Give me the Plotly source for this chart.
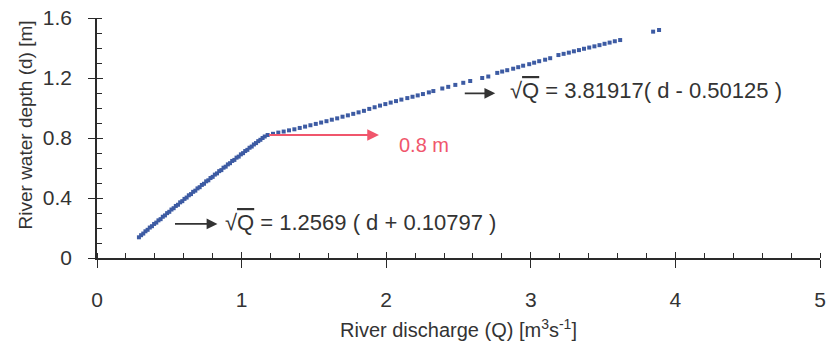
import plotly.graph_objects as go

# ---- data ----
lower_q = [0.290,0.305,0.320,0.335,0.350,0.365,0.380,0.395,0.410,0.425,
           0.440,0.455,0.470,0.485,0.500,0.515,0.530,0.545,0.560,0.575,
           0.590,0.605,0.620,0.635,0.650,0.665,0.680,0.695,0.710,0.725,
           0.740,0.755,0.770,0.785,0.800,0.815,0.830,0.845,0.860,0.875,
           0.890,0.905,0.920,0.935,0.950,0.965,0.980,0.995,1.010,1.025,
           1.040,1.055,1.070,1.085,1.100,1.115,1.130,1.145,1.160]
lower_d = [0.138,0.152,0.163,0.178,0.188,0.203,0.212,0.227,0.236,0.251,
           0.259,0.275,0.284,0.299,0.308,0.323,0.332,0.347,0.355,0.371,
           0.379,0.394,0.403,0.418,0.426,0.441,0.449,0.464,0.472,0.487,
           0.495,0.511,0.518,0.533,0.541,0.556,0.564,0.579,0.586,0.602,
           0.609,0.624,0.632,0.647,0.654,0.669,0.676,0.691,0.699,0.713,
           0.721,0.735,0.743,0.757,0.766,0.779,0.788,0.800,0.810]

upper_q = [1.180,1.217,1.254,1.291,1.328,1.365,1.402,1.439,1.476,1.513,
           1.550,1.587,1.624,1.661,1.698,1.735,1.772,1.809,1.846,1.883,
           1.920,1.957,1.994,2.031,2.068,2.105,
           2.146,2.182,2.218,2.254,2.295,2.326,2.388,2.429,2.478,2.533,
           2.581,2.664,2.706,
           2.768,2.802,2.837,2.878,2.913,2.947,2.989,3.023,3.058,3.099,3.134,
           3.191,3.227,3.263,3.298,3.333,3.368,3.404,3.440,3.475,3.510,
           3.545,3.581,3.618,
           3.846,3.887]
upper_d = [0.820,0.828,0.836,0.843,0.851,0.858,0.867,0.876,0.885,0.894,
           0.903,0.912,0.922,0.931,0.942,0.951,0.961,0.971,0.981,0.994,
           1.005,1.016,1.026,1.036,1.046,1.056,
           1.066,1.075,1.084,1.093,1.104,1.113,1.130,1.141,1.154,1.168,
           1.180,1.200,1.210,
           1.234,1.243,1.252,1.262,1.272,1.282,1.292,1.302,1.312,1.322,1.332,
           1.353,1.361,1.369,1.378,1.386,1.395,1.403,1.411,1.419,1.428,
           1.436,1.445,1.453,
           1.509,1.520]

x_ticks = [0, 1, 2, 3, 4, 5]
y_ticks = [0, 0.4, 0.8, 1.2, 1.6]
y_tick_labels = ["0", "0.4", "0.8", "1.2", "1.6"]

FONT = "Liberation Sans, Arial, sans-serif"
TXT = "#333333"
AX = "#2a2a2a"
BLUE = "#3d5ba3"
RED = "#f0566c"

fig = go.Figure()
fig.add_trace(go.Scatter(x=lower_q + upper_q, y=lower_d + upper_d, mode="markers",
                         marker=dict(symbol="square", size=4, color=BLUE),
                         showlegend=False, hoverinfo="skip"))
# invisible trace to activate the overlay axes (for crossing ticks)
fig.add_trace(go.Scatter(x=[None], y=[None], xaxis="x2", yaxis="y2", showlegend=False))

fig.update_layout(
    width=829, height=347,
    margin=dict(l=96.5, r=9, t=18, b=89),
    paper_bgcolor="white", plot_bgcolor="white",
    font=dict(family=FONT, color=TXT, size=19),
    xaxis=dict(range=[0, 5], tickvals=x_ticks, ticks="outside", ticklen=8, tickwidth=1.3,
               tickcolor=AX, showline=True, linecolor=AX, linewidth=1.5, automargin=False,
               showgrid=False, zeroline=False, tickfont=dict(size=21, color=TXT),
               ticklabelstandoff=14,
               minor=dict(ticks="inside", ticklen=5, dtick=0.2, tickwidth=1.1, tickcolor=AX, showgrid=False)),
    yaxis=dict(range=[0, 1.6], tickvals=y_ticks, ticktext=y_tick_labels, ticks="outside",
               ticklen=7, tickwidth=1.3, tickcolor=AX, showline=True, linecolor=AX,
               linewidth=1.5, showgrid=False, zeroline=False, automargin=False,
               tickfont=dict(size=21, color=TXT), ticklabelstandoff=12,
               minor=dict(ticks="inside", ticklen=5, dtick=0.1, tickwidth=1.1, tickcolor=AX, showgrid=False)),
    xaxis2=dict(range=[0, 5], overlaying="x", anchor="y", tickvals=x_ticks, ticks="inside",
                ticklen=6, tickwidth=1.3, tickcolor=AX, showticklabels=False, automargin=False,
                showgrid=False, zeroline=False, showline=False),
    yaxis2=dict(range=[0, 1.6], overlaying="y", anchor="x", tickvals=y_ticks, ticks="inside",
                ticklen=6, tickwidth=1.3, tickcolor=AX, showticklabels=False, automargin=False,
                showgrid=False, zeroline=False, showline=False),
)

ann = []
# axis titles
ann.append(dict(text="River discharge (Q) [m<sup>3</sup>s<sup>-1</sup>]", xref="paper", yref="paper",
                x=0.5, y=-0.292, xanchor="center", yanchor="middle", showarrow=False,
                font=dict(size=20, color=TXT)))
ann.append(dict(text="River water depth (d) [m]", xref="paper", yref="paper",
                x=-0.099, y=0.554, xanchor="center", yanchor="middle", textangle=-90,
                showarrow=False, font=dict(size=19, color=TXT)))
# red arrow (0.8 m)
ann.append(dict(x=1.95, y=0.82, ax=1.18, ay=0.82, xref="x", yref="y", axref="x", ayref="y",
                text="", showarrow=True, arrowhead=2, arrowsize=1.3, arrowwidth=1.8, arrowcolor=RED))
ann.append(dict(x=2.077, y=0.753, xref="x", yref="y", text="0.8 m", showarrow=False,
                xanchor="left", yanchor="middle", font=dict(size=20, color=RED)))
# black arrows
ann.append(dict(x=0.833, y=0.227, ax=0.529, ay=0.227, xref="x", yref="y", axref="x", ayref="y",
                text="", showarrow=True, arrowhead=2, arrowsize=1.2, arrowwidth=1.8, arrowcolor="#333333"))
ann.append(dict(x=2.754, y=1.098, ax=2.533, ay=1.098, xref="x", yref="y", axref="x", ayref="y",
                text="", showarrow=True, arrowhead=2, arrowsize=1.2, arrowwidth=1.8, arrowcolor="#333333"))
# equations
SQ = "\u221a<span style='text-decoration:overline'>Q</span>"
ann.append(dict(x=0.868, y=0.24, xref="x", yref="y",
                text=SQ + " = 1.2569 ( d + 0.10797 )", showarrow=False,
                xanchor="left", yanchor="middle", font=dict(size=22, color=TXT)))
ann.append(dict(x=2.844, y=1.12, xref="x", yref="y",
                text=SQ + " = 3.81917( d - 0.50125 )", showarrow=False,
                xanchor="left", yanchor="middle", font=dict(size=22, color=TXT)))
fig.update_layout(annotations=ann)

fig.write_html("out.html", config={"displayModeBar": False},
               post_script="document.body.style.margin='0';document.body.style.padding='0';")
